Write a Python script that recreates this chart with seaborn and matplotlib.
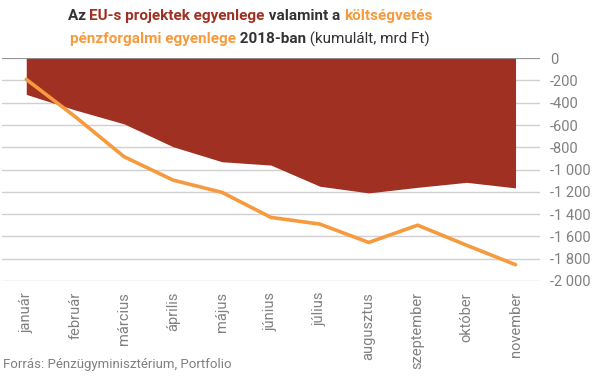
import numpy as np
import pandas as pd
import matplotlib.pyplot as plt
import seaborn as sns
from matplotlib.ticker import FuncFormatter

months = ['január', 'február', 'március', 'április', 'május', 'június',
          'július', 'augusztus', 'szeptember', 'október', 'november']
eu_balance = [-325, -465, -590, -795, -930, -960, -1150, -1210, -1160, -1115, -1165]
budget_balance = [-190, -525, -885, -1095, -1205, -1430, -1490, -1655, -1500, -1680, -1855]
y_ticks = list(range(-2000, 1, 200))

df = pd.DataFrame({'honap': months, 'eu': eu_balance, 'kv': budget_balance})
df['pos'] = np.arange(len(df))

sns.set_theme(style="white")
plt.rcParams['font.family'] = ['Roboto', 'DejaVu Sans']

RED = '#A03022'
ORANGE = '#F79A3E'
DARK = '#333333'
GRAY = '#808080'

fig = plt.figure(figsize=(5.98, 3.78), dpi=100)
ax = fig.add_axes([0.003, 0.257, 0.900, 0.589])

ax.fill_between(df['pos'], df['eu'], 0, color=RED, linewidth=0, zorder=2)
sns.lineplot(data=df, x='pos', y='kv', color=ORANGE, linewidth=2.6, ax=ax, zorder=3)

ax.set_xlim(-0.5, len(months) - 0.5)
ax.set_ylim(-2000, 0)
ax.set_yticks(y_ticks)
ax.yaxis.set_major_formatter(FuncFormatter(lambda v, p: f'{int(v):,}'.replace(',', ' ')))
ax.yaxis.tick_right()
ax.set_xticks(df['pos'])
ax.set_xticklabels(months, rotation=90)
ax.tick_params(axis='both', length=0, colors=GRAY, labelsize=10.5)
ax.tick_params(axis='y', pad=7)
ax.tick_params(axis='x', pad=8)
ax.set_xlabel('')
ax.set_ylabel('')
ax.grid(axis='y', color='#d0d0d0', linewidth=1, zorder=0)
ax.axhline(0, color='#888888', linewidth=1.2, zorder=4)
for s in ax.spines.values():
    s.set_visible(False)

# title with coloured parts
lines = [
    [('Az ', DARK, 'bold'), ('EU-s projektek egyenlege', RED, 'bold'),
     (' valamint a ', DARK, 'bold'), ('költségvetés', ORANGE, 'bold')],
    [('pénzforgalmi egyenlege', ORANGE, 'bold'), (' 2018-ban', DARK, 'bold'),
     (' (kumulált, mrd Ft)', DARK, 'normal')],
]
fig.canvas.draw()
r = fig.canvas.get_renderer()
W = fig.bbox.width
for yy, parts in zip([0.958, 0.897], lines):
    texts = [fig.text(0, yy, s, color=c, fontweight=w, fontsize=11, va='center')
             for s, c, w in parts]
    widths = [t.get_window_extent(r).width for t in texts]
    x = (250 - sum(widths) / 2) / W
    for t, wd in zip(texts, widths):
        t.set_x(x)
        x += wd / W

fig.text(0.005, 0.035, 'Forrás: Pénzügyminisztérium, Portfolio', color=GRAY,
         fontsize=9.5, va='center')

fig.savefig('out.png', dpi=100)
